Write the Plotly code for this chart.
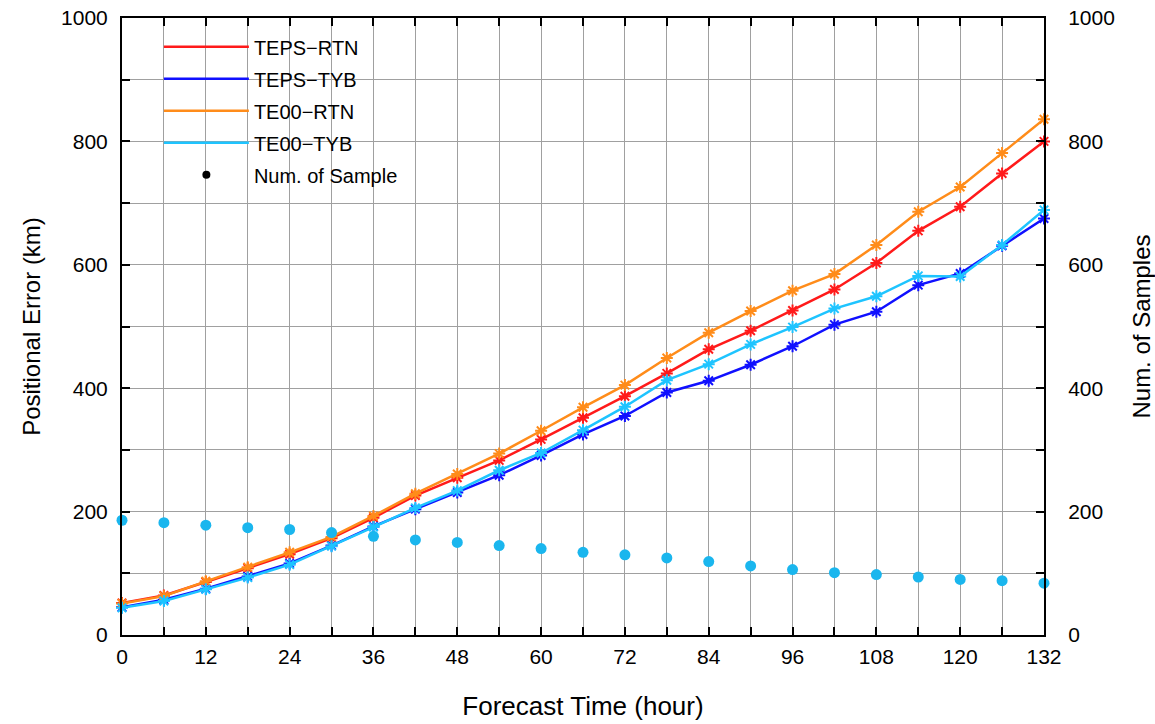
import plotly.graph_objects as go

hours = [0, 6, 12, 18, 24, 30, 36, 42, 48, 54, 60, 66, 72, 78, 84, 90, 96, 102, 108, 114, 120, 126, 132]

teps_rtn = [52, 64, 86, 108, 131, 157, 190, 226, 255, 283, 317, 352, 387, 424, 463, 493, 526, 560, 603, 655, 694, 748, 800]
teps_tyb = [45, 57, 75, 95, 116, 145, 176, 204, 231, 259, 291, 325, 355, 393, 412, 438, 468, 503, 524, 567, 586, 631, 675]
te00_rtn = [51, 63, 87, 110, 134, 159, 193, 229, 261, 294, 331, 369, 405, 449, 490, 525, 558, 585, 632, 686, 726, 781, 836]
te00_tyb = [44, 55, 74, 93, 114, 144, 175, 206, 234, 267, 295, 332, 370, 413, 439, 471, 499, 529, 549, 582, 581, 632, 689]
samples = [186, 182, 178, 174, 171, 166, 160, 154, 150, 145, 140, 134, 130, 125, 119, 112, 106, 101, 98, 94, 90, 88, 84]

x_tickvals = list(range(0, 133, 6))
x_ticktext = [str(v) if v % 12 == 0 else "" for v in x_tickvals]
y_tickvals = list(range(0, 1001, 100))
y_ticktext = [str(v) if v % 200 == 0 else "" for v in y_tickvals]

series = [
    ("TEPS\u2212RTN", teps_rtn, "#ff1a1a"),
    ("TEPS\u2212TYB", teps_tyb, "#1010ff"),
    ("TE00\u2212RTN", te00_rtn, "#ff8c1a"),
    ("TE00\u2212TYB", te00_tyb, "#1ec4ff"),
]

FONT = "Liberation Sans, Arial, Helvetica, sans-serif"
fig = go.Figure()

# sample dots on secondary axis
fig.add_trace(go.Scatter(
    x=hours, y=samples, mode="markers", yaxis="y2",
    marker=dict(color="#1ab6ee", size=11, symbol="circle"),
    showlegend=False, cliponaxis=False,
))

for name, vals, col in series:
    fig.add_trace(go.Scatter(
        x=hours, y=vals, mode="lines+markers",
        line=dict(color=col, width=2.5),
        marker=dict(symbol="asterisk-open", size=10, color=col, line=dict(color=col, width=2)),
        showlegend=False, cliponaxis=False,
    ))

# legend entries
for i, (name, vals, col) in enumerate(series):
    fig.add_trace(go.Scatter(
        x=[None], y=[None], mode="lines", name=name,
        line=dict(color=col, width=2.5), legendgroup=f"g{i}",
    ))
fig.add_trace(go.Scatter(
    x=[None], y=[None], mode="markers", name="Num. of Sample",
    marker=dict(color="black", size=8), legendgroup="g9",
))

axis_common = dict(
    showline=True, linecolor="black", linewidth=2,
    ticks="inside", ticklen=8, tickcolor="black", tickwidth=1.5,
    showgrid=True, gridcolor="#a0a0a0", gridwidth=1,
    zeroline=False, automargin=False,
    tickfont=dict(family=FONT, size=21, color="black"),
)

fig.update_layout(
    width=1155, height=724,
    margin=dict(l=122, r=111, t=18, b=89),
    paper_bgcolor="white", plot_bgcolor="white",
    font=dict(family=FONT, color="black"),
    xaxis=dict(
        range=[0, 132], tickvals=x_tickvals, ticktext=x_ticktext,
        mirror="ticks", ticklabelstandoff=2,
        title=dict(text="Forecast Time (hour)", font=dict(family=FONT, size=26), standoff=30),
        **axis_common,
    ),
    yaxis=dict(
        range=[0, 1000], tickvals=y_tickvals, ticktext=y_ticktext,
        mirror=True, ticklabelstandoff=8,
        title=dict(text="Positional Error (km)", font=dict(family=FONT, size=24), standoff=14),
        **axis_common,
    ),
    yaxis2=dict(
        range=[0, 1000], tickvals=y_tickvals, ticktext=y_ticktext,
        overlaying="y", side="right", showgrid=False,
        showline=True, linecolor="black", linewidth=2,
        ticks="inside", ticklen=8, tickcolor="black", tickwidth=1.5,
        zeroline=False, ticklabelstandoff=18, automargin=False,
        tickfont=dict(family=FONT, size=21, color="black"),
        title=dict(text="Num. of Samples", font=dict(family=FONT, size=24), standoff=20),
    ),
    legend=dict(
        x=0.04, y=0.985, xanchor="left", yanchor="top",
        bgcolor="rgba(0,0,0,0)", borderwidth=0,
        font=dict(family=FONT, size=20, color="black"),
        traceorder="grouped", tracegroupgap=3,
        itemwidth=85,
    ),
)

fig.write_html("out.html")
